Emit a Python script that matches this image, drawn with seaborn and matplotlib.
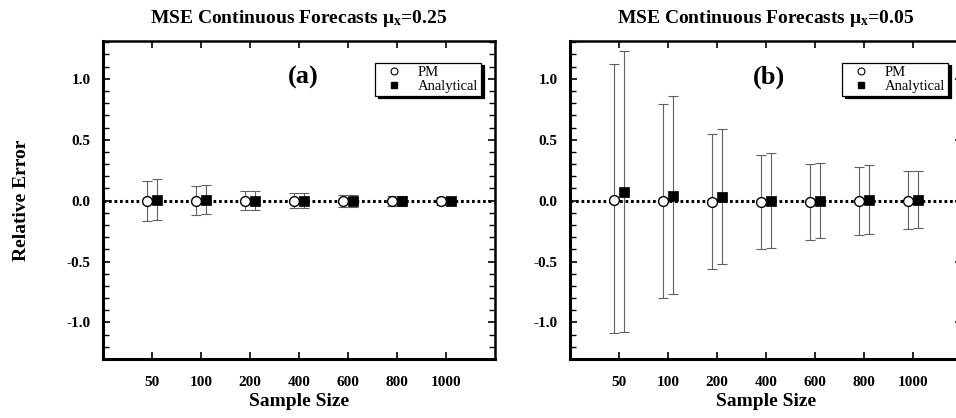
import numpy as np
import pandas as pd
import matplotlib
matplotlib.use("Agg")
import matplotlib.pyplot as plt
from matplotlib.lines import Line2D
from matplotlib.ticker import MultipleLocator
import seaborn as sns

# Sample sizes (categorical x axis)
sample_sizes = ["50", "100", "200", "400", "600", "800", "1000"]

# Panel (a): mu_x = 0.25
a_pm_mean = [0.0, 0.0, 0.0, 0.0, 0.0, -0.005, -0.005]
a_pm_upper = [0.16, 0.12, 0.08, 0.06, 0.05, 0.035, 0.03]
a_pm_lower = [-0.17, -0.12, -0.08, -0.06, -0.05, -0.045, -0.04]
a_an_mean = [0.005, 0.005, 0.0, 0.0, 0.0, -0.005, -0.005]
a_an_upper = [0.18, 0.13, 0.08, 0.06, 0.05, 0.035, 0.03]
a_an_lower = [-0.16, -0.11, -0.08, -0.06, -0.05, -0.045, -0.04]

# Panel (b): mu_x = 0.05
b_pm_mean = [0.005, -0.005, -0.01, -0.01, -0.01, 0.0, 0.0]
b_pm_upper = [1.12, 0.795, 0.545, 0.375, 0.30, 0.28, 0.24]
b_pm_lower = [-1.09, -0.80, -0.56, -0.40, -0.32, -0.28, -0.23]
b_an_mean = [0.07, 0.04, 0.03, 0.0, 0.0, 0.005, 0.005]
b_an_upper = [1.23, 0.86, 0.585, 0.39, 0.31, 0.29, 0.245]
b_an_lower = [-1.08, -0.77, -0.52, -0.385, -0.31, -0.27, -0.225]

titles = [r"MSE Continuous Forecasts $\mu_\mathregular{x}$=0.25",
          r"MSE Continuous Forecasts $\mu_\mathregular{x}$=0.05"]
panel_tags = ["(a)", "(b)"]

sns.set_theme(style="ticks")
plt.rcParams["font.family"] = ["Liberation Serif", "DejaVu Serif"]
plt.rcParams["mathtext.fontset"] = "custom"
plt.rcParams["mathtext.rm"] = "Liberation Serif:bold"
plt.rcParams["mathtext.it"] = "Liberation Serif:bold"
plt.rcParams["mathtext.default"] = "regular"
for key in ["text.color", "axes.labelcolor", "xtick.color", "ytick.color",
            "axes.edgecolor", "axes.titlecolor", "legend.labelcolor"]:
    plt.rcParams[key] = "black"

fig = plt.figure(figsize=(9.56, 4.18), dpi=100)
ax_a = fig.add_axes([0.1077, 0.1411, 0.410, 0.7608])
ax_b = fig.add_axes([0.5962, 0.1411, 0.410, 0.7608])

offset = 0.11
pos = np.arange(1, len(sample_sizes) + 1)


def draw_panel(ax, pm_m, pm_u, pm_l, an_m, an_u, an_l, title, tag, tag_x,
               ylabel):
    df = pd.DataFrame({
        "pos": np.concatenate([pos - offset, pos + offset]),
        "mean": pm_m + an_m,
        "upper": pm_u + an_u,
        "lower": pm_l + an_l,
        "method": ["PM"] * len(pos) + ["Analytical"] * len(pos),
    })
    ax.axhline(0, color="black", lw=2.2, ls=(0, (0.9, 0.9)), zorder=1)
    for _, r in df.iterrows():
        ax.errorbar(r["pos"], r["mean"],
                    yerr=[[r["mean"] - r["lower"]], [r["upper"] - r["mean"]]],
                    fmt="none", ecolor="#606060", elinewidth=0.8,
                    capsize=3.5, capthick=0.8, zorder=2)
    pm = df[df["method"] == "PM"]
    an = df[df["method"] == "Analytical"]
    sns.scatterplot(data=pm, x="pos", y="mean", ax=ax, marker="o", s=50,
                    facecolor="white", edgecolor="black", linewidth=1.0,
                    zorder=3, legend=False)
    sns.scatterplot(data=an, x="pos", y="mean", ax=ax, marker="s", s=50,
                    color="black", edgecolor="black", linewidth=0.5,
                    zorder=3, legend=False)

    ax.set_xlim(0, len(sample_sizes) + 1)
    ax.set_ylim(-1.3, 1.31)
    ax.set_xticks(pos)
    ax.set_xticklabels(sample_sizes, fontweight="bold", fontsize=11)
    ax.yaxis.set_minor_locator(MultipleLocator(0.1))
    ax.set_yticks([-1.0, -0.5, 0.0, 0.5, 1.0])
    ax.set_yticklabels(["-1.0", "-0.5", "0.0", "0.5", "1.0"],
                       fontweight="bold", fontsize=11)
    ax.tick_params(axis="both", which="major", direction="in", length=5,
                   width=1.2, top=True, right=True, colors="black")
    ax.tick_params(axis="x", which="major", pad=12)
    ax.tick_params(axis="y", which="major", pad=9)
    ax.tick_params(axis="y", which="minor", direction="in", length=4,
                   width=1.0, left=True, right=True, colors="black")
    for side in ["left", "bottom"]:
        ax.spines[side].set_linewidth(2.2)
    for side in ["top", "right"]:
        ax.spines[side].set_linewidth(1.8)
    for sp in ax.spines.values():
        sp.set_color("black")

    ax.set_xlabel("Sample Size", fontweight="bold", fontsize=14, labelpad=3,
                  color="black")
    if ylabel:
        ax.set_ylabel("Relative Error", fontweight="bold", fontsize=14,
                      labelpad=26, color="black")
    else:
        ax.set_ylabel("")
    ax.set_title(title, fontweight="bold", fontsize=14, pad=13,
                 color="black")
    ax.text(tag_x, 0.886, tag, transform=ax.transAxes, fontsize=19,
            fontweight="bold", ha="center", va="center", color="black")

    handles = [
        Line2D([], [], ls="none", marker="o", ms=5, mfc="white",
               mec="black", mew=0.8),
        Line2D([], [], ls="none", marker="s", ms=5, mfc="black",
               mec="black"),
    ]
    leg = ax.legend(handles, ["PM", "Analytical"], loc="upper right",
                    bbox_to_anchor=(0.983, 0.955), fontsize=10.5,
                    frameon=True, fancybox=False, edgecolor="black",
                    framealpha=1, borderpad=0.2, labelspacing=0.05,
                    handletextpad=0.5, handlelength=2.2,
                    labelcolor="black",
                    shadow={"color": "black", "alpha": 1, "ox": 2, "oy": -2})
    leg.get_frame().set_linewidth(0.9)


draw_panel(ax_a, a_pm_mean, a_pm_upper, a_pm_lower,
           a_an_mean, a_an_upper, a_an_lower, titles[0], panel_tags[0],
           0.51, True)
draw_panel(ax_b, b_pm_mean, b_pm_upper, b_pm_lower,
           b_an_mean, b_an_upper, b_an_lower, titles[1], panel_tags[1],
           0.507, False)

fig.savefig("out.png", dpi=100)
